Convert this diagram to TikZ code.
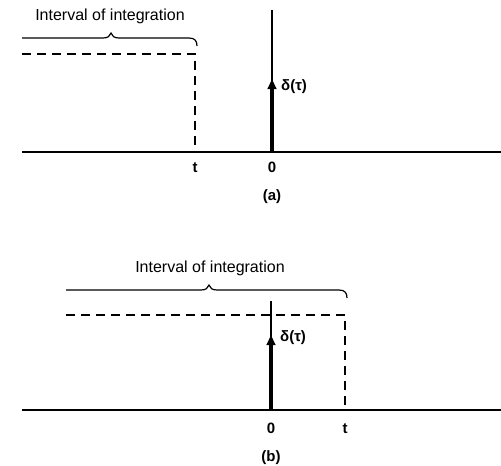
\documentclass[tikz,border=0pt]{standalone}
\usepackage{fontspec}
\setmainfont{Liberation Sans}
\usetikzlibrary{arrows.meta}
\begin{document}
\begin{tikzpicture}[x=1pt,y=-1pt,
  axisline/.style={line width=1.6pt},
  dashline/.style={line width=1.1pt, dash pattern=on 9pt off 6pt},
  braceline/.style={line width=1.2pt},
  spike/.style={line width=1.3pt},
  impulse/.style={line width=3.5pt, -{Triangle[length=10pt,width=8.5pt]}},
  lbl/.style={font=\fontsize{15}{18}\selectfont\bfseries, inner sep=0pt, anchor=base},
  ttl/.style={font=\fontsize{16}{19}\selectfont, inner sep=0pt, anchor=base},
]
\useasboundingbox (0,0) rectangle (501,466);

% ---------- panel (a) ----------
\coordinate (aL) at (22,152);
\coordinate (aR) at (501,152);
\coordinate (aO) at (272,152);
\coordinate (aTop) at (272,10);
\coordinate (aTip) at (272,79);
\coordinate (aT) at (195,152);
\coordinate (aDL) at (22,54);
\coordinate (aDR) at (195,54);

\node[ttl] (atitle) at (110,20) {Interval of integration};
\draw[braceline] (22,38) -- (103,38) .. controls (108,38) and (110,36) .. (111,33)
  .. controls (112,36) and (114,38) .. (119,38) -- (189,38)
  .. controls (195,38) and (197,41) .. (197,46);
\draw[dashline] (aDL) -- (aDR) -- (aT);
\draw[axisline] (aL) -- (aR);
\draw[spike] (aO) -- (aTop);
\draw[impulse] (aO) -- (aTip);
\node[lbl, anchor=base west] (adelta) at (281,90) {δ(τ)};
\node[lbl] (at) at (195,172) {t};
\node[lbl] (a0) at (272,172) {0};
\node[lbl] (acap) at (272,200) {(a)};

% ---------- panel (b) ----------
\coordinate (bL) at (22,410);
\coordinate (bR) at (501,410);
\coordinate (bO) at (271,410);
\coordinate (bTop) at (271,301);
\coordinate (bTip) at (271,335);
\coordinate (bT) at (345,410);
\coordinate (bDL) at (66,315);
\coordinate (bDR) at (345,315);

\node[ttl] (btitle) at (210,272) {Interval of integration};
\draw[braceline] (66,290) -- (201,290) .. controls (206,290) and (208,288) .. (209,285)
  .. controls (210,288) and (212,290) .. (217,290) -- (339,290)
  .. controls (345,290) and (347,293) .. (347,298);
\draw[dashline] (bDL) -- (bDR) -- (bT);
\draw[axisline] (bL) -- (bR);
\draw[spike] (bO) -- (bTop);
\draw[impulse] (bO) -- (bTip);
\node[lbl, anchor=base west] (bdelta) at (280,341) {δ(τ)};
\node[lbl] (b0) at (271,433) {0};
\node[lbl] (bt) at (345,433) {t};
\node[lbl] (bcap) at (271,461) {(b)};
\end{tikzpicture}
\end{document}
